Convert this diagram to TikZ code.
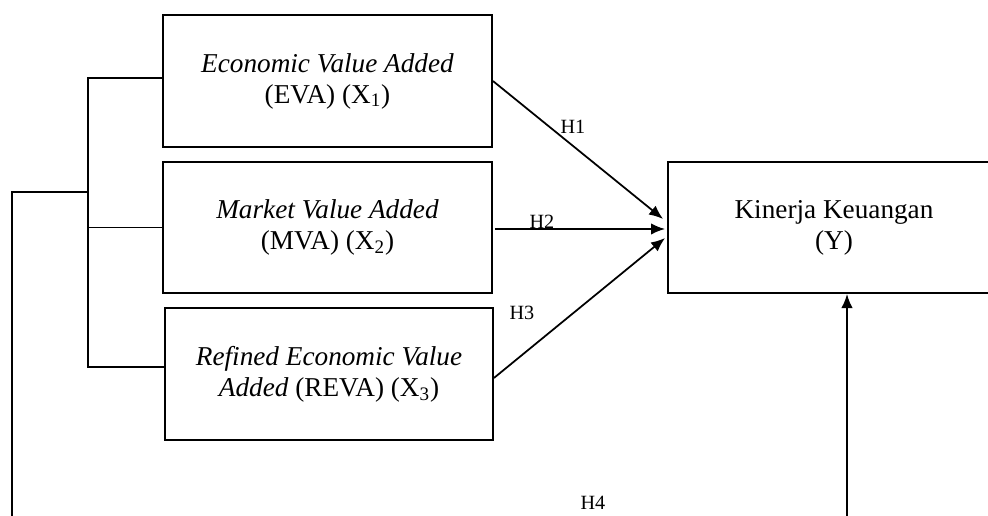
\documentclass[tikz,border=0pt]{standalone}
\usepackage{fontspec}
\setmainfont{Liberation Serif}
\usepackage{tikz}
\usetikzlibrary{arrows.meta,calc,positioning}
\tikzset{>={Latex[length=8pt,width=6.5pt]}}
\tikzset{
  varbox/.style={draw=black, line width=1.1pt, align=center, inner sep=2pt,
    font=\fontsize{15.5}{17.6}\selectfont},
  hlabel/.style={inner sep=0pt, font=\fontsize{11.5}{13}\selectfont},
  link/.style={line width=1pt}
}

\begin{document}
\begin{tikzpicture}[x=0.02cm,y=-0.02cm]
    \useasboundingbox (0,0) rectangle (988,516);
    \clip (0,0) rectangle (988,516);

    % independent variables
    \node[varbox, minimum width=6.58cm, minimum height=2.64cm] (EVA) at (327.5,81)
        {\textit{Economic Value Added}\\(EVA) (X\textsubscript{1})};
    \node[varbox, minimum width=6.58cm, minimum height=2.62cm] (MVA) at (327.5,227.5)
        {\textit{Market Value Added}\\(MVA) (X\textsubscript{2})};
    \node[varbox, minimum width=6.56cm, minimum height=2.64cm] (REVA) at (329,374)
        {\textit{Refined Economic Value}\\\textit{Added} (REVA) (X\textsubscript{3})};

    % dependent variable
    \node[varbox, minimum width=6.64cm, minimum height=2.62cm] (Y) at (834,227.5)
        {Kinerja Keuangan\\(Y)};

    % partial effects
    \coordinate (mid) at ($(MVA.east)+(2,1.5)$);
    \draw[link,->] (EVA.east) -- ($(Y.west)+(-4,-8.5)$);
    \draw[link,->] (mid) -- ($(mid -| Y.west)+(-2,0)$);
    \draw[link,->] ($(REVA.east)+(0,4)$) -- ($(Y.west)+(-2,10.5)$);

    \node[hlabel] (h1) at (573,127) {H1};
    \node[hlabel] (h2) at (542,222) {H2};
    \node[hlabel] (h3) at (522,313) {H3};
    \node[hlabel] (h4) at (593,503) {H4};

    % simultaneous effect
    \coordinate (top) at (88,78);
    \coordinate (bot) at (88,367);
    \coordinate (trunk) at (88,192);
    \coordinate (outer) at (12,192);
    \coordinate (floor) at (12,540);
    \draw[link] (EVA.west |- top) -- (top) -- (bot) -- (REVA.west |- bot);
    \draw[link] (MVA.west) -- (MVA.west -| trunk);
    \draw[link] (trunk) -- (outer) -- (floor) -- (floor -| 847,0);
    \draw[link,->] (floor -| 847,0) -- (Y.south -| 847,0);
\end{tikzpicture}
\end{document}
